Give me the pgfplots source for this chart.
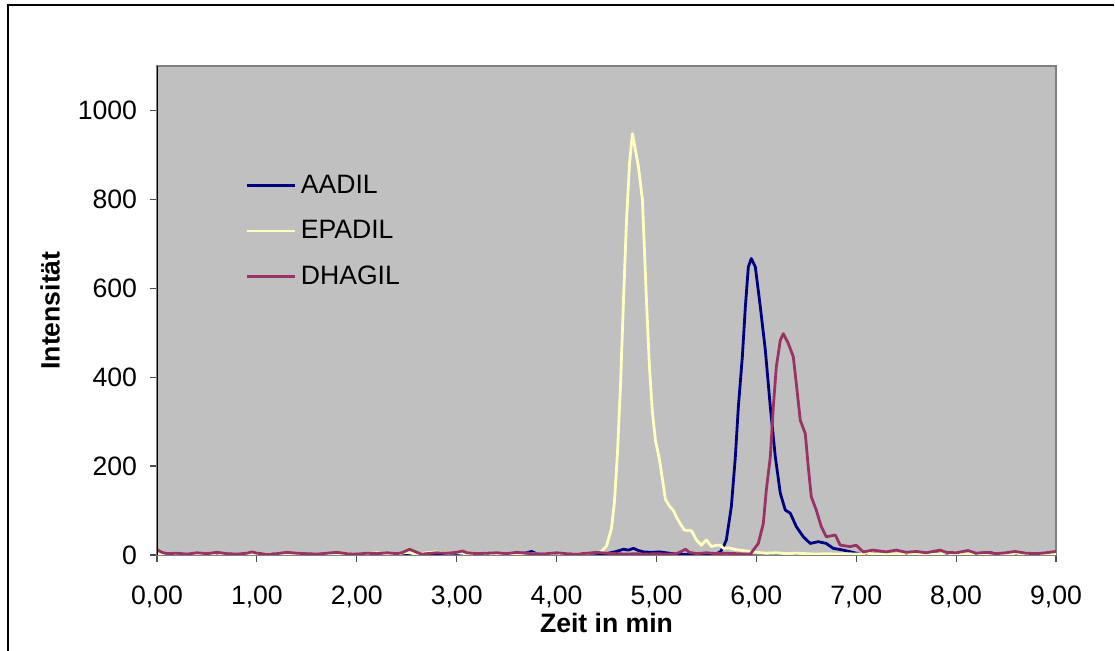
\documentclass[border=0pt]{standalone}
\usepackage{pgfplots}
\pgfplotsset{compat=1.18}
\usepackage{pgfplotstable}
\usepackage{fontspec}
\setmainfont{Liberation Sans}
\newcommand\f{\fontsize{13.3bp}{16bp}\selectfont}
\definecolor{plotbg}{HTML}{C0C0C0}
\definecolor{aadil}{HTML}{000080}
\definecolor{epadil}{HTML}{FFFFC0}
\definecolor{dhagil}{HTML}{993366}
\definecolor{frameg}{HTML}{808080}

\pgfplotstableread{
x y
0.00 2
0.10 1
0.20 3
0.30 1
0.40 2
0.50 1
0.60 3
0.70 2
0.80 1
0.90 2
1.00 1
1.10 3
1.20 1
1.30 2
1.40 1
1.50 2
1.60 1
1.70 2
1.80 3
1.90 1
2.00 2
2.10 1
2.20 2
2.30 3
2.40 1
2.50 2
2.55 1
2.60 2
2.70 1
2.80 2
2.90 1
3.00 3
3.10 2
3.20 1
3.30 2
3.40 1
3.50 2
3.60 3
3.70 5
3.75 8
3.80 3
3.90 1
4.00 2
4.10 1
4.20 2
4.30 1
4.40 2
4.50 3
4.60 8
4.67 13
4.72 11
4.77 15
4.82 10
4.87 7
4.95 6
5.03 7
5.13 4
5.20 2
5.30 1
5.40 2
5.50 1
5.60 3
5.64 7
5.67 18
5.70 34
5.75 109
5.79 221
5.82 333
5.86 446
5.89 558
5.92 648
5.95 667
5.99 648
6.04 558
6.09 461
6.14 333
6.19 221
6.24 139
6.29 101
6.34 94
6.40 64
6.47 41
6.54 26
6.62 30
6.70 26
6.77 15
6.87 11
7.00 4
7.10 3
7.20 2
7.30 3
7.40 1
7.50 2
7.60 1
7.70 2
7.80 3
7.90 1
8.00 2
8.10 1
8.20 2
8.30 4
8.35 5
8.40 2
8.50 1
8.60 2
8.70 1
8.80 2
8.90 1
9.00 2
}\aadil

\pgfplotstableread{
x y
0.00 3
0.10 2
0.20 4
0.30 1
0.40 3
0.50 2
0.60 4
0.70 2
0.80 1
0.90 3
1.00 2
1.10 4
1.20 2
1.30 1
1.40 3
1.50 2
1.60 1
1.70 3
1.80 2
1.90 4
2.00 2
2.10 3
2.20 5
2.30 3
2.40 2
2.50 6
2.55 4
2.60 2
2.70 5
2.80 7
2.90 4
3.00 5
3.10 3
3.20 2
3.30 4
3.40 3
3.50 2
3.60 3
3.70 4
3.80 2
3.90 3
4.00 4
4.10 2
4.20 3
4.30 4
4.40 5
4.45 8
4.50 20
4.55 60
4.58 120
4.61 230
4.64 380
4.67 573
4.70 750
4.73 880
4.76 948
4.79 910
4.82 873
4.86 798
4.90 573
4.93 423
4.96 320
4.99 258
5.03 215
5.06 170
5.09 125
5.13 110
5.17 100
5.20 85
5.24 70
5.28 56
5.31 55
5.35 55
5.40 34
5.45 22
5.50 34
5.55 19
5.60 22
5.64 22
5.67 15
5.72 16
5.80 12
5.90 9
6.00 6
6.10 4
6.20 5
6.30 3
6.40 4
6.50 3
6.60 2
6.70 3
6.80 2
6.90 3
7.00 2
7.10 4
7.20 2
7.30 3
7.40 2
7.50 4
7.60 2
7.70 3
7.80 2
7.90 4
8.00 3
8.10 2
8.20 4
8.30 2
8.40 3
8.50 2
8.60 4
8.70 2
8.80 3
8.90 2
9.00 3
}\epadil

\pgfplotstableread{
x y
0.00 12
0.05 6
0.10 3
0.20 4
0.30 2
0.40 5
0.50 3
0.60 6
0.70 3
0.80 2
0.90 4
0.95 7
1.00 4
1.10 2
1.20 3
1.30 6
1.40 4
1.50 3
1.60 2
1.70 4
1.80 6
1.90 3
2.00 2
2.10 4
2.20 3
2.30 5
2.40 3
2.45 5
2.53 13
2.60 6
2.65 2
2.70 3
2.80 5
2.90 4
3.00 6
3.06 9
3.10 5
3.20 3
3.30 4
3.40 5
3.50 3
3.60 6
3.70 4
3.80 2
3.90 3
4.00 5
4.10 3
4.20 2
4.30 4
4.40 6
4.50 4
4.60 3
4.70 2
4.80 3
4.90 2
5.00 3
5.10 2
5.20 3
5.25 8
5.29 13
5.33 6
5.40 3
5.50 5
5.60 3
5.70 4
5.80 3
5.90 2
5.94 2
6.02 26
6.07 71
6.10 146
6.14 221
6.17 333
6.20 423
6.24 483
6.27 498
6.32 476
6.37 446
6.40 386
6.44 303
6.49 273
6.52 198
6.55 131
6.60 101
6.65 64
6.70 41
6.79 45
6.84 22
6.94 19
7.00 22
7.07 7
7.17 11
7.30 7
7.40 11
7.50 6
7.60 8
7.70 5
7.84 11
7.90 6
8.00 5
8.12 10
8.20 4
8.30 6
8.40 3
8.50 5
8.59 8
8.70 4
8.80 3
8.90 5
9.00 8
}\dhagil

\begin{document}
\begin{tikzpicture}
\useasboundingbox (0,0) rectangle (557.5bp,325.5bp);
\draw[black, line width=1bp] (4bp,-2bp) -- (4bp,323bp) -- (557bp,323bp);
\begin{axis}[
  at={(78.5bp,48bp)}, anchor=south west,
  scale only axis, width=449.5bp, height=244.5bp,
  xmin=0, xmax=9, ymin=0, ymax=1100,
  xtick={0,1,...,9}, ytick={0,200,...,1000},
  axis background/.style={fill=plotbg},
  axis line style={frameg, line width=1bp},
  tick align=outside, tick pos=left,
  major tick length=3.5bp,
  tick style={black!70, line width=0.6bp},
  tick label style={font=\f},
  xticklabel style={yshift=-8.5bp, /pgf/number format/.cd, use comma, fixed, fixed zerofill, precision=2},
  yticklabel style={xshift=-3bp, /pgf/number format/.cd, 1000 sep={}},
  /pgf/number format/assume math mode=true,
  xlabel={\bfseries Zeit in min}, ylabel={\bfseries Intensität},
  label style={font=\f},
  xlabel style={at={(axis description cs:0.5,-0.1575)}, anchor=base, inner sep=0pt},
  ylabel style={at={(axis description cs:-0.119,0.5)}, anchor=center, inner sep=0pt},
  legend style={draw=none, fill=none, at={(axis description cs:0.092,0.794)}, anchor=north west, font=\f, row sep=8bp},
  legend cell align=left,
  legend image code/.code={\draw[#1] (0bp,0bp) -- (24bp,0bp);},
  every axis plot/.append style={line width=1.4bp, line join=round},
]
\addplot[aadil, no markers] table {\aadil};
\addplot[epadil, no markers] table {\epadil};
\addplot[dhagil, no markers] table {\dhagil};
\legend{AADIL,EPADIL,DHAGIL}
\draw[black, line width=0.8bp] (rel axis cs:0,0) -- (rel axis cs:0,1);
\end{axis}
\end{tikzpicture}
\end{document}
